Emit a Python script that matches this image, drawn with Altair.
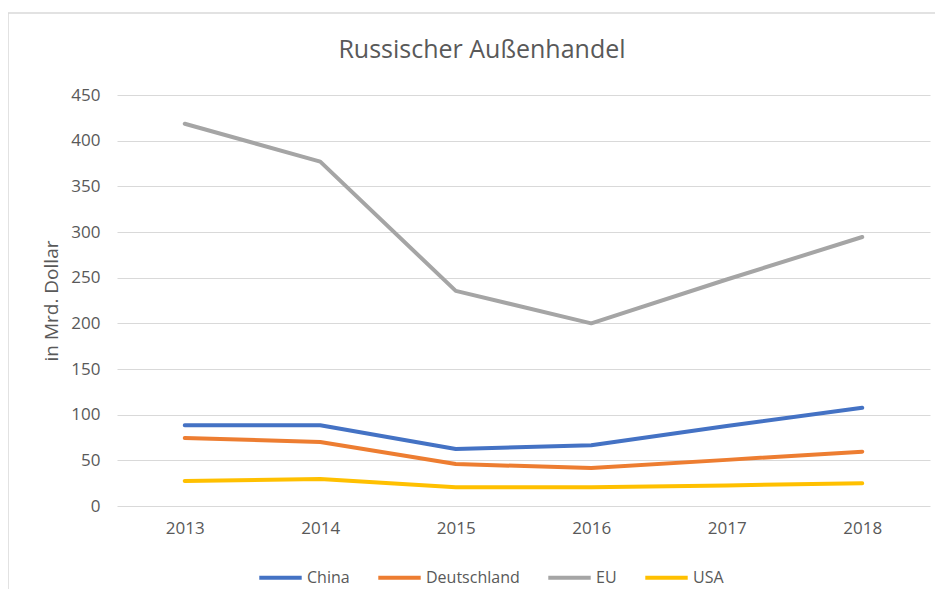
import altair as alt
import pandas as pd

years = ["2013", "2014", "2015", "2016", "2017", "2018"]
series = ["China", "Deutschland", "EU", "USA"]
china = [88.5, 88.5, 62.5, 66.5, 87.5, 107.5]
deutschland = [74.5, 70, 46, 41.5, 50.5, 59.5]
eu = [418.5, 377, 235.5, 200, 248, 294.5]
usa = [27.5, 29.5, 20.5, 20.5, 22.5, 25]
colors = ["#4472C4", "#ED7D31", "#A5A5A5", "#FFC000"]
title_text = ["Russischer Außenhandel"]

rows = []
for name, vals in zip(series, [china, deutschland, eu, usa]):
    for y, v in zip(years, vals):
        rows.append({"Jahr": y, "Land": name, "Wert": v})
df = pd.DataFrame(rows)

FONT = "Open Sans"
GREY = "#595959"

lines = alt.Chart(df).mark_line(strokeWidth=4, strokeCap="round", strokeJoin="round").encode(
    x=alt.X("Jahr:N", sort=years,
            scale=alt.Scale(type="point", padding=0.5),
            axis=alt.Axis(title=None, labelAngle=0, domain=False,
                          ticks=False, labelPadding=14, labelFontSize=17, labelColor=GREY,
                          labelFont=FONT, grid=False)),
    y=alt.Y("Wert:Q", scale=alt.Scale(domain=[0, 450], nice=False),
            axis=alt.Axis(title="in Mrd. Dollar", values=list(range(0, 451, 50)),
                          domain=False, ticks=False, labelPadding=17, labelFontSize=17,
                          labelColor=GREY, labelFont=FONT, gridColor="#d9d9d9",
                          titleFont=FONT, titleFontSize=19, titleFontWeight="normal",
                          titleColor=GREY, titlePadding=9)),
    color=alt.Color("Land:N", sort=series,
                    scale=alt.Scale(domain=series, range=colors),
                    legend=alt.Legend(title=None, orient="none", direction="horizontal",
                                      legendX=140, legendY=459,
                                      symbolType="stroke", symbolSize=1800,
                                      symbolStrokeWidth=4, labelFontSize=16,
                                      labelColor=GREY, labelFont=FONT,
                                      columnPadding=20, labelOffset=3)),
)

frame = alt.Chart(pd.DataFrame({"k": [0]})).mark_rect(
    fill="transparent", stroke="#d9d9d9", strokeWidth=1.5
).encode(
    x=alt.value(-109), x2=alt.value(835), y=alt.value(-82), y2=alt.value(510)
)

title = alt.Chart(pd.DataFrame({"t": title_text})).mark_text(
    font=FONT, fontSize=25, color=GREY, align="center", baseline="middle"
).encode(text="t:N", x=alt.value(365), y=alt.value(-45))

chart = alt.layer(frame, lines, title).properties(
    width=813, height=411,
    autosize=alt.AutoSizeParams(type="none"),
    padding={"left": 109, "top": 87, "right": 5, "bottom": 83},
    background="white",
).configure_view(stroke="white", strokeOpacity=0).configure_axisX(grid=False, domain=False)

chart.save("out.html", embed_options={"renderer": "svg", "actions": False})
